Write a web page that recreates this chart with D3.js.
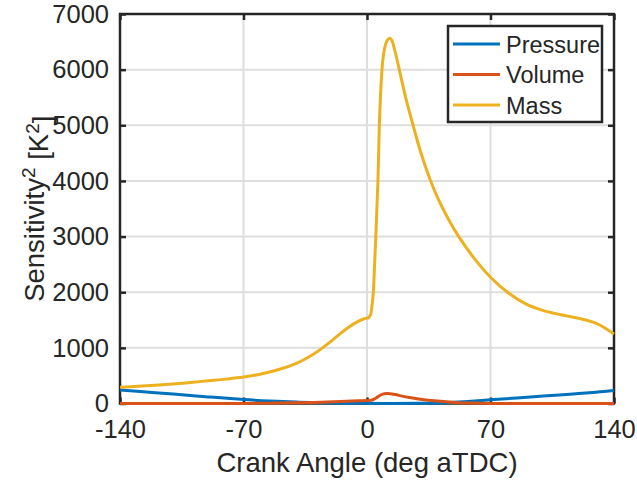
<!DOCTYPE html>
<html>
<head>
<meta charset="utf-8">
<script src="https://cdn.jsdelivr.net/npm/d3@7"></script>
<style>
  html, body { margin: 0; padding: 0; background: #fff; }
  svg { display: block; }
  text { font-family: "Liberation Sans", Arial, Helvetica, sans-serif; fill: #262626; }
</style>
</head>
<body>
<svg id="chart" width="637" height="484"></svg>
<script>
// Squared temperature sensitivity to each measured input, over crank angle.
const pressureAngle = [-140, -120, -105, -90, -70, -55, -40, -25, -10, 0, 15, 30, 45, 55, 70, 85, 100, 115, 130, 140];
const pressureValue = [242, 195, 158, 118, 70, 44, 25, 12, 5, 3, 2, 5, 15, 32, 66, 100, 135, 168, 203, 232];

const volumeAngle = [-140, -100, -70, -50, -30, -15, -5, 0, 3, 5, 7, 9, 11, 13, 16, 20, 25, 30, 40, 50, 60, 70, 90, 140];
const volumeValue = [0, 0, 2, 8, 20, 35, 48, 55, 62, 95, 140, 168, 178, 176, 160, 132, 102, 78, 44, 20, 7, 2, 0, 0];

const massAngle = [-140, -130, -120, -110, -100, -90, -80, -70, -60, -50, -40, -35, -30, -25, -20, -15, -10, -5, -2, 0, 1, 2, 3, 3.6, 4.3, 5, 5.6, 6.2, 6.6, 7.0, 7.6, 8.5, 9.5, 10.5, 11.8, 13, 14.2, 15.3, 16.5, 18.3, 22, 26.3, 30.5, 35.7, 40, 46, 52, 61, 70, 80, 90, 100, 110, 120, 130, 140];
const massValue = [291, 308, 328, 350, 378, 408, 438, 475, 530, 610, 722, 800, 893, 1005, 1130, 1260, 1380, 1475, 1518, 1535, 1545, 1600, 1800, 2000, 2500, 3000, 3500, 4000, 4500, 5000, 5500, 6000, 6300, 6450, 6540, 6563, 6520, 6400, 6250, 6000, 5490, 4980, 4510, 4030, 3700, 3320, 3000, 2600, 2270, 1990, 1790, 1670, 1595, 1530, 1440, 1250];

const seriesNames = ["Pressure", "Volume", "Mass"];
const seriesColors = ["#0072BD", "#D95319", "#EDB120"];

const xTicks = [-140, -70, 0, 70, 140];
const yTicks = [0, 1000, 2000, 3000, 4000, 5000, 6000, 7000];

const series = [
  { name: seriesNames[0], color: seriesColors[0], pts: pressureAngle.map((a, i) => [a, pressureValue[i]]) },
  { name: seriesNames[1], color: seriesColors[1], pts: volumeAngle.map((a, i) => [a, volumeValue[i]]) },
  { name: seriesNames[2], color: seriesColors[2], pts: massAngle.map((a, i) => [a, massValue[i]]) }
];

const svg = d3.select("#chart");
const plotL = 120, plotR = 614, plotT = 14, plotB = 403.5;
const ink = "#262626";
const fmt = d => String(d);

const x = d3.scaleLinear().domain([-140, 140]).range([plotL, plotR]);
const y = d3.scaleLinear().domain([0, 7000]).range([plotB, plotT]);

// grid
const grid = svg.append("g");
grid.selectAll("line.gx").data(xTicks.slice(1, -1)).join("line")
  .attr("x1", d => x(d)).attr("x2", d => x(d)).attr("y1", plotT).attr("y2", plotB)
  .attr("stroke", "#dedede").attr("stroke-width", 2);
grid.selectAll("line.gy").data(yTicks.slice(1, -1)).join("line")
  .attr("y1", d => y(d)).attr("y2", d => y(d)).attr("x1", plotL).attr("x2", plotR)
  .attr("stroke", "#dedede").attr("stroke-width", 2);

// axes with inward ticks on all four sides
const tickLen = 6;
const axB = d3.axisBottom(x).tickValues(xTicks).tickSize(-tickLen).tickPadding(16).tickFormat(fmt);
const axT = d3.axisTop(x).tickValues(xTicks).tickSize(-tickLen).tickFormat("");
const axL = d3.axisLeft(y).tickValues(yTicks).tickSize(-tickLen).tickPadding(11).tickFormat(fmt);
const axR = d3.axisRight(y).tickValues(yTicks).tickSize(-tickLen).tickFormat("");

function styleAxis(g) {
  g.select(".domain").remove();
  g.selectAll(".tick line").attr("stroke", ink).attr("stroke-width", 2.5);
  g.selectAll(".tick text").attr("fill", ink).style("font-size", "25.5px")
    .style("font-family", "'Liberation Sans', Arial, sans-serif");
}
svg.append("g").attr("transform", `translate(0,${plotB})`).call(axB).call(styleAxis);
svg.append("g").attr("transform", `translate(0,${plotT})`).call(axT).call(styleAxis);
svg.append("g").attr("transform", `translate(${plotL},0)`).call(axL).call(styleAxis);
svg.append("g").attr("transform", `translate(${plotR},0)`).call(axR).call(styleAxis);

// plot box
svg.append("rect").attr("x", plotL).attr("y", plotT).attr("width", plotR - plotL).attr("height", plotB - plotT)
  .attr("fill", "none").attr("stroke", ink).attr("stroke-width", 2.5);

// data lines
const line = d3.line().x(d => x(d[0])).y(d => y(d[1])).curve(d3.curveCatmullRom.alpha(0.5));
svg.append("g").selectAll("path").data(series).join("path")
  .attr("d", d => line(d.pts))
  .attr("fill", "none").attr("stroke", d => d.color).attr("stroke-width", 3)
  .attr("stroke-linejoin", "round");

// axis titles
svg.append("text").attr("x", (plotL + plotR) / 2).attr("y", 472).attr("text-anchor", "middle")
  .style("font-size", "27.5px").text("Crank Angle (deg aTDC)");

const yt = svg.append("text").attr("transform", `translate(44,${(plotT + plotB) / 2}) rotate(-90)`)
  .attr("text-anchor", "middle").style("font-size", "27.5px");
yt.append("tspan").text("Sensitivity");
yt.append("tspan").attr("dy", "-0.45em").style("font-size", "19px").text("2");
yt.append("tspan").attr("dy", "0.45em").text(" [K");
yt.append("tspan").attr("dy", "-0.45em").style("font-size", "19px").text("2");
yt.append("tspan").attr("dy", "0.45em").text("]");

// legend
const lg = svg.append("g");
lg.append("rect").attr("x", 448).attr("y", 26).attr("width", 154).attr("height", 96)
  .attr("fill", "#fff").attr("stroke", ink).attr("stroke-width", 2.5);
const rows = lg.selectAll("g.row").data(series).join("g")
  .attr("transform", (d, i) => `translate(0,${44 + i * 30.5})`);
rows.append("line").attr("x1", 453).attr("x2", 500).attr("y1", 0).attr("y2", 0)
  .attr("stroke", d => d.color).attr("stroke-width", 3);
rows.append("text").attr("x", 506).attr("y", 8.5).style("font-size", "23.5px").text(d => d.name);
</script>
</body>
</html>
